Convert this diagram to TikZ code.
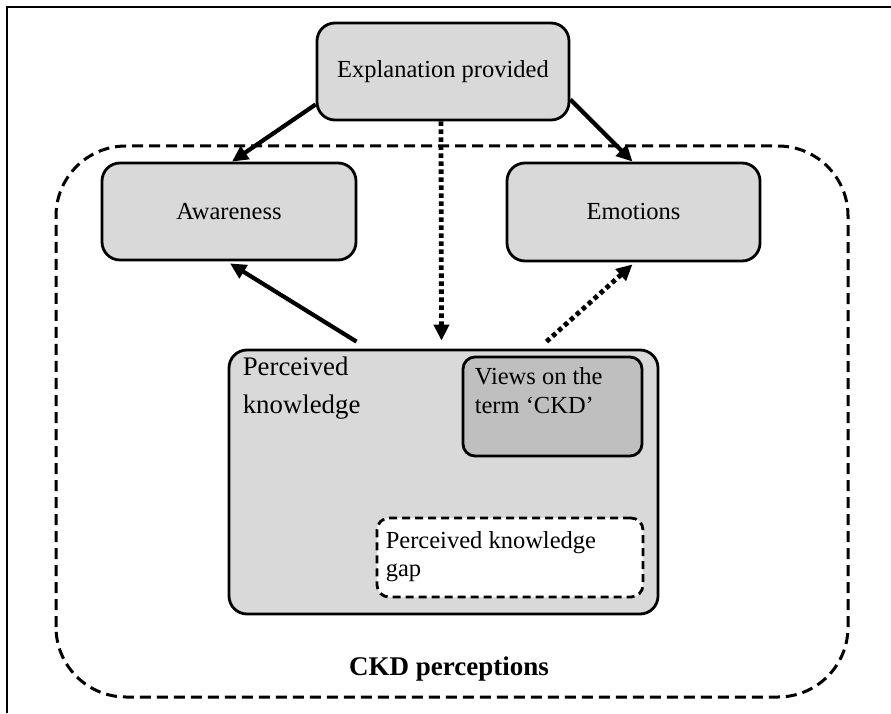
\documentclass[tikz,border=0pt]{standalone}
\usepackage{fontspec}
\setmainfont{Liberation Serif}
\usepackage{tikz}
\usetikzlibrary{arrows.meta, calc}
\definecolor{boxgray}{RGB}{217,217,217}
\definecolor{darkgray}{RGB}{191,191,191}
\tikzstyle{bignode}=[
    draw=black,          % black border
    line width=2.8pt,
    rectangle,           % the shape of the node is a rectangle
    rounded corners=18pt,
    fill=boxgray,        % light grey fill
    font=\fontsize{24.5}{28}\selectfont,
    align=center]
\tikzstyle{innernode}=[
    draw=black,
    line width=2.8pt,
    rectangle,
    rounded corners=12pt,
    align=left,
    inner sep=0pt]
\tikzstyle{solidarrow}=[-{Triangle[length=16pt,width=15pt]}, line width=4.2pt]
\tikzstyle{dotarrow}=[-{Triangle[length=16pt,width=15pt]}, line width=4.8pt,
    dash pattern=on 4.5pt off 3.5pt]

\begin{document}
\begin{tikzpicture}[x=1pt, y=1pt]
        \useasboundingbox (0,0) rectangle (891,713);
        % Outer frame (only top and left visible)
        \draw[line width=2.8pt] (7,0) -- (7,706) -- (891,706);

        % Dashed region of the CKD perceptions
        \draw[line width=3pt, dash pattern=on 11pt off 6pt, rounded corners=70pt]
            (56,16) rectangle (848,567);
        \node[font=\fontsize{27}{30}\selectfont\bfseries] (ckd) at (449,44) {CKD perceptions};

        % Draw the vertices.
        \node[bignode, minimum width=252pt, minimum height=97pt] (expl) at (443,641.5) {Explanation provided};
        \node[bignode, minimum width=254pt, minimum height=97pt] (aware) at (229,501.5) {Awareness};
        \node[bignode, minimum width=253pt, minimum height=98pt] (emot) at (633.5,501) {Emotions};
        \node[bignode, minimum width=429pt, minimum height=264pt] (pk) at (443.5,231) {};
        \node[anchor=north west, align=left, inner sep=0pt, font=\fontsize{26.8}{38}\selectfont]
            (pklabel) at ($(pk.north west)+(15,-8)$) {Perceived\\knowledge};
        \node[innernode, fill=darkgray, minimum width=179pt, minimum height=99pt] (views) at (552.5,306.5) {};
        \node[anchor=north west, align=left, inner sep=0pt, font=\fontsize{24.5}{29}\selectfont]
            (viewslabel) at ($(views.north west)+(13,-12)$) {Views on the\\term `CKD'};
        \node[innernode, fill=white, dash pattern=on 8pt off 5pt, minimum width=266pt, minimum height=79pt] (gap) at (510,155.5) {};
        \node[anchor=north west, align=left, inner sep=0pt, font=\fontsize{24.5}{28}\selectfont]
            (gaplabel) at ($(gap.north west)+(10,-15)$) {Perceived knowledge\\gap};

        % Connect vertices with edges
        \draw[solidarrow] ([yshift=-33pt]expl.west) -- ([xshift=3pt]aware.north);
        \draw[solidarrow] ([yshift=-28pt]expl.east) -- ([xshift=-1pt]emot.north);
        \draw[dotarrow] ([xshift=-2pt]expl.south) -- ([xshift=-2pt,yshift=8pt]pk.north);
        \draw[solidarrow] ([xshift=-87pt,yshift=7pt]pk.north) -- ([xshift=1pt,yshift=-2pt]aware.south);
        \draw[dotarrow] ([xshift=103pt,yshift=7pt]pk.north) -- ([xshift=-1pt,yshift=-2pt]emot.south);
\end{tikzpicture}
\end{document}
